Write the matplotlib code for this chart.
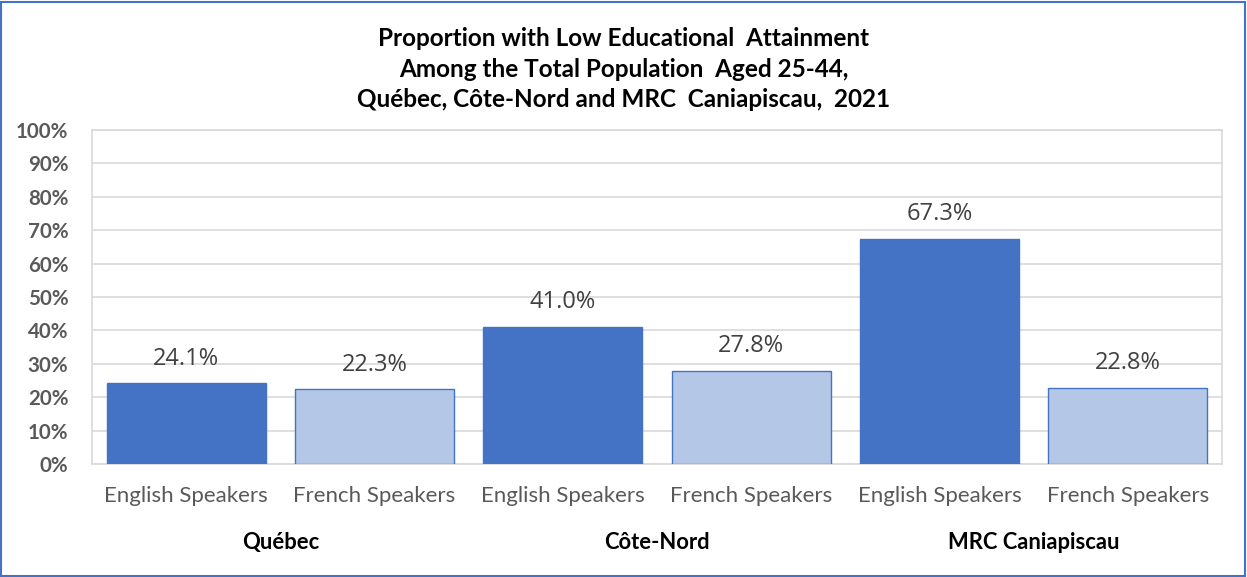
import matplotlib
matplotlib.use("Agg")
import matplotlib.pyplot as plt
from matplotlib.patches import Rectangle

categories = ["English Speakers", "French Speakers"] * 3
groups = ["Québec", "Côte-Nord", "MRC Caniapiscau"]
values = [24.1, 22.3, 41.0, 27.8, 67.3, 22.8]
yticks = [0, 10, 20, 30, 40, 50, 60, 70, 80, 90, 100]
title = ("Proportion with Low Educational  Attainment\n"
         "Among the Total Population  Aged 25-44,\n"
         "Québec, Côte-Nord and MRC  Caniapiscau,  2021")

plt.rcParams['font.family'] = ['Lato', 'DejaVu Sans']

fig = plt.figure(figsize=(12.47, 5.77), dpi=100)
fig.patch.set_facecolor("white")
fig.patches.append(Rectangle((0.001, 0.002), 0.997, 0.995, transform=fig.transFigure,
                             fill=False, edgecolor="#4472C4", linewidth=1.5))

ax = fig.add_axes([0.0738, 0.196, 0.9062, 0.5787])
x = list(range(len(values)))
colors = ["#4472C4" if i % 2 == 0 else "#B4C7E7" for i in x]
ax.bar(x, values, width=0.845, color=colors, edgecolor="#4472C4", linewidth=1.0, zorder=3)
for xi, v in zip(x, values):
    ax.text(xi, v + 3.8, f"{v:.1f}%", ha="center", va="bottom", fontsize=17,
            color="#404040", family=["Open Sans", "DejaVu Sans"])

ax.set_xlim(-0.5, len(values) - 0.5)
ax.set_ylim(0, 100)
ax.set_yticks(yticks)
ax.set_yticklabels([f"{t}%" for t in yticks], fontsize=14.8, color="#595959", fontweight="bold")
ax.set_xticks(x)
ax.set_xticklabels(categories, fontsize=16, color="#595959")
ax.tick_params(axis="y", length=0, pad=17)
ax.tick_params(axis="x", length=0, pad=16)
ax.grid(axis="y", color="#D9D9D9", linewidth=1.2, zorder=0)
for s in ax.spines.values():
    s.set_color("#D9D9D9")
    s.set_linewidth(1.2)

for gi, g in enumerate(groups):
    ax.text(2 * gi + 0.5, -0.234, g, transform=ax.get_xaxis_transform(), ha="center",
            va="center", fontsize=15.8, fontweight="bold", color="black")

fig.text(0.5, 0.88, title, ha="center", va="center", fontsize=17.5, fontweight="bold",
         color="black", linespacing=1.4)

fig.savefig("out.png", dpi=100)
